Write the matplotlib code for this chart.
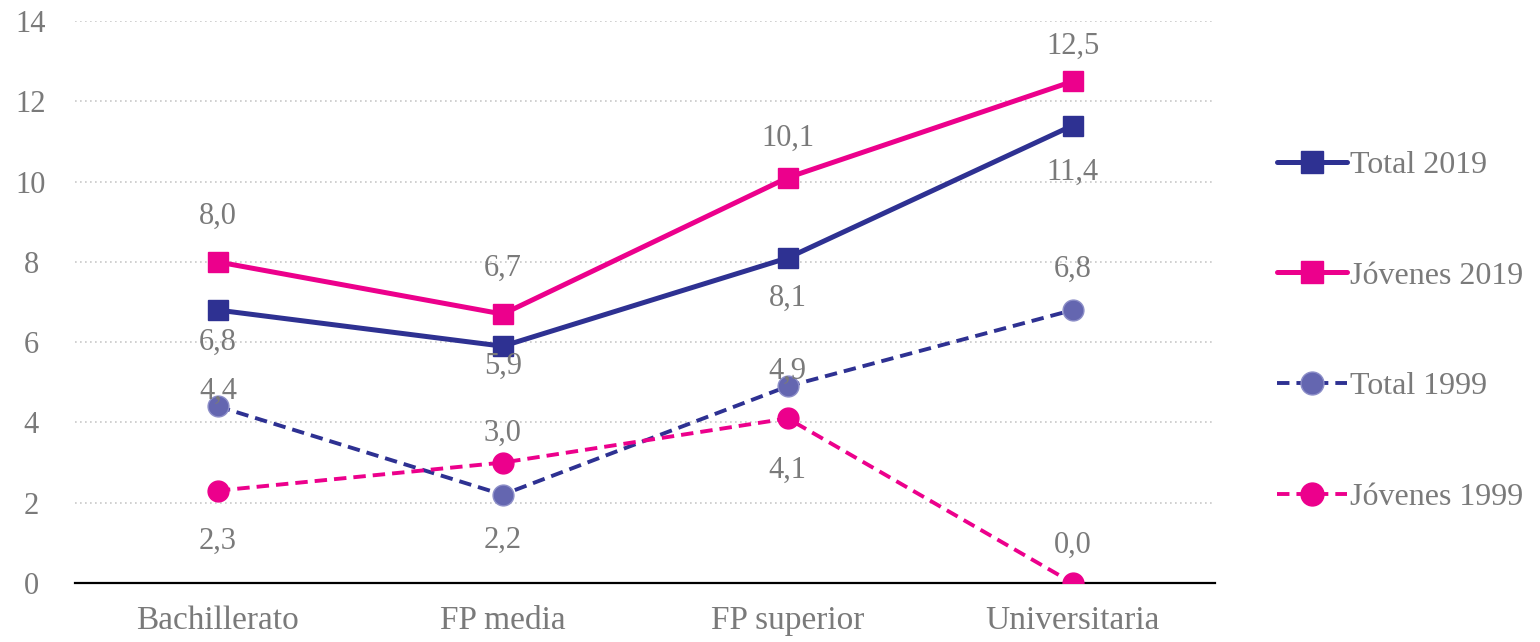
import numpy as np
import matplotlib.pyplot as plt
from matplotlib.ticker import MultipleLocator

plt.rcParams['font.family'] = ['Liberation Serif', 'DejaVu Serif']

# Data
categories = ['Bachillerato', 'FP media', 'FP superior', 'Universitaria']
total_2019 = [6.8, 5.9, 8.1, 11.4]
jovenes_2019 = [8.0, 6.7, 10.1, 12.5]
total_1999 = [4.4, 2.2, 4.9, 6.8]
jovenes_1999 = [2.3, 3.0, 4.1, 0.0]

NAVY = '#2e3192'
PINK = '#ec008c'
GREY = '#7a7a7a'
FS = 24    # text size
NFS = 22   # number size

# label offsets in pixels (dy), per point
offs_t19 = [-32, -20, -40, -47]
offs_j19 = [46, 46, 39, 35]
offs_t99 = [15, -46, 15, 41]
offs_j99 = [-51, 29, -52, 38]

fig = plt.figure(figsize=(15.4, 6.42), dpi=100)
ax = fig.add_axes([0.049, 0.092, 0.74, 0.875])
x = np.arange(len(categories))

series = [
    ('Total 2019', total_2019, NAVY, '-', 's', NAVY, NAVY, offs_t19),
    ('Jóvenes 2019', jovenes_2019, PINK, '-', 's', PINK, PINK, offs_j19),
    ('Total 1999', total_1999, NAVY, '--', 'o', '#6466b0', '#8c8ec8', offs_t99),
    ('Jóvenes 1999', jovenes_1999, PINK, '--', 'o', PINK, PINK, offs_j99),
]

for name, vals, col, ls, mk, mfc, mec, offs in series:
    if ls == '-':
        ax.plot(x, vals, color=col, ls='-', lw=3.6, marker=mk, ms=15,
                mfc=mfc, mec=mec, mew=1, label=name, zorder=3,
                solid_capstyle='round')
    else:
        ax.plot(x, vals, color=col, ls='--', lw=2.8, marker=mk, ms=15,
                mfc=mfc, mec=mec, mew=1, label=name, zorder=3,
                dashes=(3.2, 1.8))
    for xi, v, dy in zip(x, vals, offs):
        ax.annotate(f'{v:.1f}'.replace('.', ','), (xi, v),
                    xytext=(0, dy * 0.72), textcoords='offset points',
                    ha='center', va='center', fontsize=NFS, color=GREY)

ax.set_xlim(-0.5, 3.5)
ax.set_ylim(0, 14)
ax.yaxis.set_major_locator(MultipleLocator(2))
ax.set_xticks(x)
ax.set_xticklabels(categories, fontsize=FS)
ax.tick_params(axis='both', length=0, labelcolor=GREY)
ax.tick_params(axis='y', labelsize=NFS, pad=32)
ax.tick_params(axis='x', pad=16)
for lab in ax.get_yticklabels():
    lab.set_horizontalalignment('center')

ax.grid(axis='y', color='#c8c8c8', ls=(0, (1, 2)), lw=1.2)
ax.set_axisbelow(True)
for s in ['top', 'right', 'left']:
    ax.spines[s].set_visible(False)
ax.spines['bottom'].set_color('black')
ax.spines['bottom'].set_linewidth(1.6)

leg = ax.legend(loc='center left', bbox_to_anchor=(1.043, 0.448), frameon=False,
                fontsize=23, labelcolor=GREY, handlelength=2.2, markerscale=1.1,
                handletextpad=0.1, labelspacing=2.55, borderaxespad=0)

fig.savefig('out.png', dpi=100)
